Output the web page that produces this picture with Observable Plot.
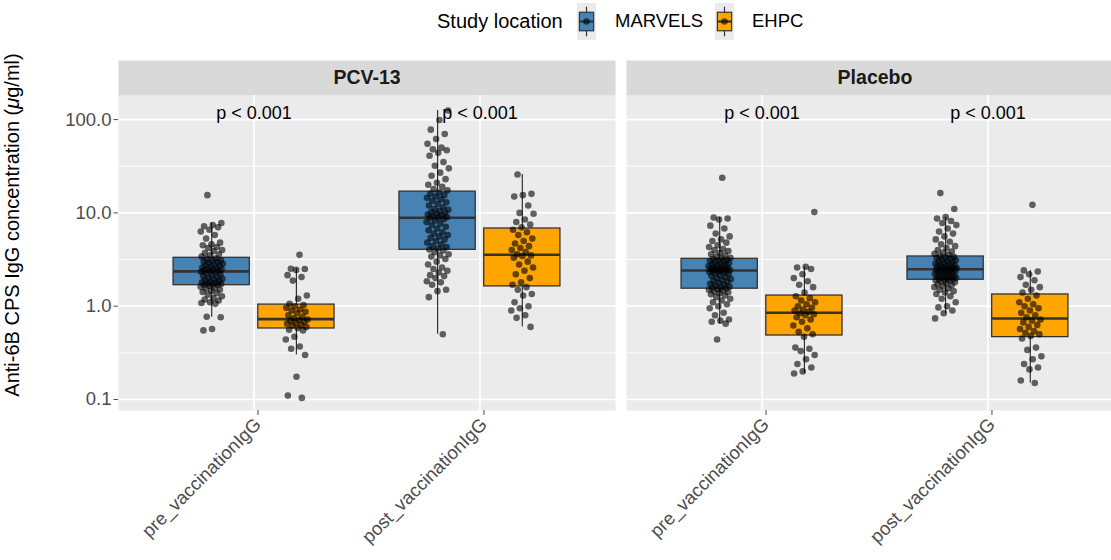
<!DOCTYPE html>
<html>
<head>
<meta charset="utf-8">
<script src="https://cdn.jsdelivr.net/npm/d3@7"></script>
<script src="https://cdn.jsdelivr.net/npm/@observablehq/plot@0.6"></script>
<style>
  html, body { margin: 0; padding: 0; background: #ffffff; overflow: hidden; }
  body { font-family: "Liberation Sans", Arial, Helvetica, sans-serif; color: #000; }
  #wrap { position: relative; width: 1111px; height: 560px; overflow: hidden; background: #ffffff; }
  #legend { position: absolute; left: 0; top: 0; width: 1111px; height: 45px; }
  #legend .lab { position: absolute; top: 21px; transform: translateY(-50%); white-space: nowrap; line-height: 1; }
  #legend svg { position: absolute; top: 3px; }
  #ytitle { position: absolute; left: 12px; top: 225px; transform: translate(-50%, -50%) rotate(-90deg);
            white-space: nowrap; font-size: 20px; line-height: 1; color: #000; z-index: 2; }
  #chart { position: absolute; left: 0; top: 45px; z-index: 1; }
</style>
</head>
<body>
<div id="wrap">
  <div id="legend"></div>
  <div id="ytitle">Anti-6B CPS IgG concentration (<i>μ</i>g/ml)</div>
  <div id="chart"></div>
</div>
<script>
// Facets, timepoints and study sites
const arms = ["PCV-13", "Placebo"];
const timepoints = ["pre_vaccinationIgG", "post_vaccinationIgG"];
const sites = ["MARVELS", "EHPC"];
const siteColors = ["#4682B4", "#FFA500"];
const pLabels = ["p < 0.001", "p < 0.001", "p < 0.001", "p < 0.001"];

// y axis breaks (µg/ml)
const majorBreaks = [0.1, 1, 10, 100];

// Box summaries, order: PCV-13 pre (MARVELS, EHPC), PCV-13 post, Placebo pre, Placebo post
const boxArm  = ["PCV-13", "PCV-13", "PCV-13", "PCV-13", "Placebo", "Placebo", "Placebo", "Placebo"];
const boxTime = [0, 0, 1, 1, 0, 0, 1, 1];
const boxSite = [0, 1, 0, 1, 0, 1, 0, 1];
const whiskerLow  = [0.76, 0.30, 0.50, 0.60, 0.65, 0.19, 0.83, 0.15];
const quartile1   = [1.68, 0.577, 4.02, 1.63, 1.54, 0.485, 1.92, 0.466];
const medians     = [2.36, 0.726, 8.86, 3.56, 2.41, 0.85, 2.49, 0.738];
const quartile3   = [3.30, 1.04, 16.9, 6.8, 3.22, 1.30, 3.41, 1.335];
const whiskerHigh = [7.8, 2.52, 125, 25.8, 9.0, 2.65, 9.0, 2.41];

// Individual IgG concentrations (µg/ml)
const pcvPreMarvels = [15.5, 7.8, 7.4, 7.2, 7.0, 6.6, 6.3, 5.8, 5.3, 4.8, 4.6, 4.5, 4.3, 4.2, 4.0, 3.9, 3.7, 3.6, 3.5, 3.4,
  3.25, 3.2, 3.1, 3.05, 3.0, 2.95, 2.9, 2.85, 2.8, 2.75, 2.7, 2.65, 2.6, 2.55, 2.5, 2.48, 2.45, 2.42, 2.4, 2.38,
  2.34, 2.3, 2.25, 2.2, 2.15, 2.1, 2.05, 2.0, 1.97, 1.93, 1.9, 1.87, 1.83, 1.8, 1.78, 1.75, 1.73, 1.71, 1.7, 1.69,
  1.66, 1.62, 1.58, 1.55, 1.5, 1.46, 1.42, 1.38, 1.33, 1.28, 1.22, 1.18, 1.15, 1.1, 1.08, 1.06, 0.77, 0.76, 0.57, 0.55];
const pcvPreEhpc = [3.55, 2.52, 2.5, 2.45, 2.15, 2.05, 1.88, 1.3, 1.2, 1.06,
  1.03, 0.99, 0.96, 0.92, 0.9, 0.87, 0.84, 0.8, 0.77, 0.74,
  0.72, 0.71, 0.7, 0.68, 0.66, 0.65, 0.63, 0.62, 0.6, 0.58,
  0.56, 0.55, 0.47, 0.44, 0.37, 0.35, 0.30, 0.175, 0.11, 0.104];
const pcvPostMarvels = [125, 99, 78, 70, 62, 55, 50, 48, 47, 44, 41, 35, 32, 30, 27, 25, 23, 21, 20, 19, 18, 17.5,
  16.5, 16, 15.5, 15, 14.5, 14, 13.5, 13, 12.5, 12, 11.5, 11, 10.8, 10.5, 10.2, 10, 9.8, 9.6, 9.4, 9.2, 9.0, 8.9,
  8.8, 8.6, 8.3, 8.0, 7.7, 7.4, 7.1, 6.8, 6.5, 6.2, 6.0, 5.8, 5.6, 5.4, 5.2, 5.0, 4.8, 4.6, 4.4, 4.3, 4.15, 4.05,
  3.95, 3.8, 3.6, 3.5, 3.4, 3.2, 3.0, 2.8, 2.6, 2.5, 2.4, 2.3, 2.15, 2.1, 2.0, 1.85, 1.8, 1.7, 1.5, 1.45, 1.25, 0.50];
const pcvPostEhpc = [25.8, 16, 15.5, 15, 12, 10, 9.8, 8.5, 8, 7.5, 7.0,
  6.6, 6.2, 5.8, 5.3, 5.0, 4.7, 4.4, 4.2, 4.0, 3.8, 3.6,
  3.5, 3.45, 3.3, 3.0, 2.8, 2.6, 2.4, 2.2, 2.0, 1.8, 1.7,
  1.6, 1.5, 1.35, 1.3, 1.1, 1.0, 0.95, 0.9, 0.8, 0.75, 0.60];
const placeboPreMarvels = [23.8, 8.9, 8.7, 8.5, 7.3, 6.8, 6.0, 5.6, 5.2, 5.0, 4.8, 4.5, 4.3, 4.1, 4.0, 3.9, 3.7, 3.6, 3.5, 3.4, 3.3, 3.25,
  3.2, 3.15, 3.1, 3.05, 3.0, 2.95, 2.9, 2.85, 2.8, 2.76, 2.72, 2.68, 2.64, 2.6, 2.57, 2.54, 2.51, 2.48, 2.46, 2.44, 2.43, 2.42,
  2.4, 2.37, 2.33, 2.3, 2.25, 2.2, 2.15, 2.1, 2.05, 2.0, 1.95, 1.9, 1.86, 1.82, 1.78, 1.74, 1.7, 1.66, 1.62, 1.59, 1.57, 1.55,
  1.52, 1.5, 1.47, 1.44, 1.41, 1.38, 1.34, 1.3, 1.25, 1.2, 1.15, 1.1, 1.05, 1.0, 0.95, 0.85, 0.8, 0.72, 0.7, 0.68, 0.65, 0.44];
const placeboPreEhpc = [10.2, 2.65, 2.6, 2.5, 2.2, 2.0, 1.85, 1.7, 1.6, 1.4,
  1.28, 1.22, 1.15, 1.1, 1.05, 1.0, 0.96, 0.92, 0.9, 0.87,
  0.84, 0.82, 0.8, 0.76, 0.72, 0.68, 0.62, 0.58, 0.53, 0.5,
  0.47, 0.36, 0.35, 0.33, 0.3, 0.27, 0.24, 0.22, 0.2, 0.19];
const placeboPostMarvels = [16.3, 11, 9.0, 8.7, 8.2, 7.8, 7.4, 6.8, 6.3, 6.0, 5.6, 5.2, 4.9, 4.6, 4.4, 4.2, 4.0, 3.85, 3.75, 3.65, 3.55, 3.45,
  3.38, 3.33, 3.28, 3.22, 3.16, 3.1, 3.05, 3.0, 2.95, 2.9, 2.85, 2.8, 2.76, 2.72, 2.68, 2.64, 2.61, 2.58, 2.56, 2.54, 2.52, 2.5,
  2.48, 2.46, 2.43, 2.4, 2.37, 2.34, 2.31, 2.28, 2.25, 2.22, 2.19, 2.16, 2.13, 2.1, 2.07, 2.04, 2.02, 2.0, 1.98, 1.96, 1.94, 1.93,
  1.9, 1.87, 1.84, 1.8, 1.76, 1.72, 1.68, 1.64, 1.6, 1.55, 1.5, 1.45, 1.4, 1.35, 1.28, 1.2, 1.1, 1.0, 0.97, 0.9, 0.84, 0.74];
const placeboPostEhpc = [12.2, 2.42, 2.35, 2.2, 2.05, 1.9, 1.7, 1.6, 1.5, 1.4,
  1.3, 1.2, 1.1, 1.05, 1.0, 0.95, 0.9, 0.85, 0.8, 0.76,
  0.72, 0.7, 0.67, 0.63, 0.6, 0.57, 0.54, 0.52, 0.5, 0.48,
  0.45, 0.36, 0.34, 0.29, 0.27, 0.24, 0.22, 0.21, 0.16, 0.15];

const pointGroups = [
  {arm: "PCV-13", time: 0, site: 0, values: pcvPreMarvels},
  {arm: "PCV-13", time: 0, site: 1, values: pcvPreEhpc},
  {arm: "PCV-13", time: 1, site: 0, values: pcvPostMarvels},
  {arm: "PCV-13", time: 1, site: 1, values: pcvPostEhpc},
  {arm: "Placebo", time: 0, site: 0, values: placeboPreMarvels},
  {arm: "Placebo", time: 0, site: 1, values: placeboPreEhpc},
  {arm: "Placebo", time: 1, site: 0, values: placeboPostMarvels},
  {arm: "Placebo", time: 1, site: 1, values: placeboPostEhpc}
];

// Discrete positions: timepoint k sits at k + 1, each site dodged by a quarter of the 0.75 slot
const dodge = 0.1875;
const boxHalf = 0.16875;
const jitterWidth = 0.05;
const slot = (time, site) => time + 1 + (site === 0 ? -dodge : dodge);
const spread = i => (((i * 0.6180339887 + 0.31) % 1) - 0.5) * 2 * jitterWidth;

const boxes = boxArm.map((arm, i) => ({
  arm, site: sites[boxSite[i]], x: slot(boxTime[i], boxSite[i]),
  lo: whiskerLow[i], q1: quartile1[i], med: medians[i], q3: quartile3[i], hi: whiskerHigh[i]
}));

const points = pointGroups.flatMap((g, gi) => g.values.map((v, i) => ({
  arm: g.arm, value: v, x: slot(g.time, g.site) + spread(i + gi * 7)
})));

const labels = arms.flatMap((arm, a) => timepoints.map((t, k) => ({arm, x: k + 1, text: pLabels[a * 2 + k]})));
const labelY = 116;

const minorBreaks = majorBreaks.slice(1).map(b => b / Math.sqrt(10));
const fmt = v => (v < 1 ? String(v) : v.toFixed(1));

const width = 1111, height = 515;
const marginTop = 50, marginBottom = 150;
const panelHeight = height - marginTop - marginBottom;
const stripHeight = 35;

const chart = Plot.plot({
  width, height,
  marginLeft: 118, marginRight: -12, marginTop, marginBottom,
  style: {fontFamily: "'Liberation Sans', Arial, Helvetica, sans-serif", background: "transparent", overflow: "hidden"},
  fx: {domain: arms, paddingInner: 0.0217, paddingOuter: 0, axis: null, label: null},
  x: {type: "linear", domain: [0.4, 2.6], axis: null},
  y: {type: "log", domain: [0.0762, 181.2], axis: null},
  color: {domain: sites, range: siteColors},
  marks: [
    Plot.frame({fill: "#ebebeb", stroke: "none"}),
    Plot.frame({fill: "#d9d9d9", stroke: "none", insetTop: -stripHeight, insetBottom: panelHeight}),
    Plot.gridY(minorBreaks, {stroke: "white", strokeOpacity: 1, strokeWidth: 0.9}),
    Plot.gridY(majorBreaks, {stroke: "white", strokeOpacity: 1, strokeWidth: 1.7}),
    Plot.gridX([1, 2], {stroke: "white", strokeOpacity: 1, strokeWidth: 1.7}),
    Plot.ruleX(boxes, {fx: "arm", x: "x", y1: "lo", y2: "hi", stroke: "#333333", strokeWidth: 1.2}),
    Plot.rect(boxes, {fx: "arm", x1: d => d.x - boxHalf, x2: d => d.x + boxHalf, y1: "q1", y2: "q3",
                      fill: "site", stroke: "#333333", strokeWidth: 1.3}),
    Plot.ruleY(boxes, {fx: "arm", x1: d => d.x - boxHalf, x2: d => d.x + boxHalf, y: "med",
                       stroke: "#333333", strokeWidth: 2.6}),
    Plot.dot(points, {fx: "arm", x: "x", y: "value", r: 3.3, fill: "black", fillOpacity: 0.6, stroke: "none"}),
    Plot.text(labels, {fx: "arm", x: "x", y: () => labelY, text: "text", fontSize: 18, fill: "black"}),
    Plot.text(arms, {fx: d => d, text: d => d, frameAnchor: "top", lineAnchor: "middle", dy: -stripHeight / 2,
                     fontSize: 19.5, fontWeight: "bold", fill: "#1a1a1a"}),
    Plot.axisY(majorBreaks, {tickFormat: fmt, tickSize: 4.5, tickPadding: 2.5, fontSize: 18.5,
                             color: "#4d4d4d", label: null}),
    Plot.axisX([1, 2], {tickFormat: k => timepoints[k - 1], tickSize: 5, tickPadding: 6, dx: 4, tickRotate: -45,
                        fontSize: 18.5, color: "#4d4d4d", label: null})
  ]
});
document.getElementById("chart").appendChild(chart);

// Legend: "Study location" with a boxplot key per site
const legend = document.getElementById("legend");
const addLabel = (text, left, size) => {
  const s = document.createElement("span");
  s.className = "lab";
  s.textContent = text;
  s.style.left = left + "px";
  s.style.fontSize = size + "px";
  legend.appendChild(s);
};
const addKey = (color, left) => {
  const w = 19, h = 37;
  const svg = d3.create("svg").attr("width", w).attr("height", h).style("left", left + "px");
  svg.append("rect").attr("width", w).attr("height", h).attr("fill", "#ebebeb");
  svg.append("line").attr("x1", w / 2).attr("x2", w / 2).attr("y1", h * 0.1).attr("y2", h * 0.9)
    .attr("stroke", "#333").attr("stroke-width", 1.2);
  svg.append("rect").attr("x", w * 0.125).attr("y", h * 0.25).attr("width", w * 0.75).attr("height", h * 0.5)
    .attr("fill", color).attr("stroke", "#333").attr("stroke-width", 1.2);
  svg.append("line").attr("x1", w * 0.125).attr("x2", w * 0.875).attr("y1", h / 2).attr("y2", h / 2)
    .attr("stroke", "#333").attr("stroke-width", 2.2);
  svg.append("circle").attr("cx", w / 2).attr("cy", h / 2).attr("r", 3.3).attr("fill", "black").attr("fill-opacity", 0.6);
  legend.appendChild(svg.node());
};
addLabel("Study location", 437, 20);
addKey(siteColors[0], 577);
addLabel(sites[0], 615, 18.5);
addKey(siteColors[1], 715);
addLabel(sites[1], 752, 18.5);
</script>
</body>
</html>
